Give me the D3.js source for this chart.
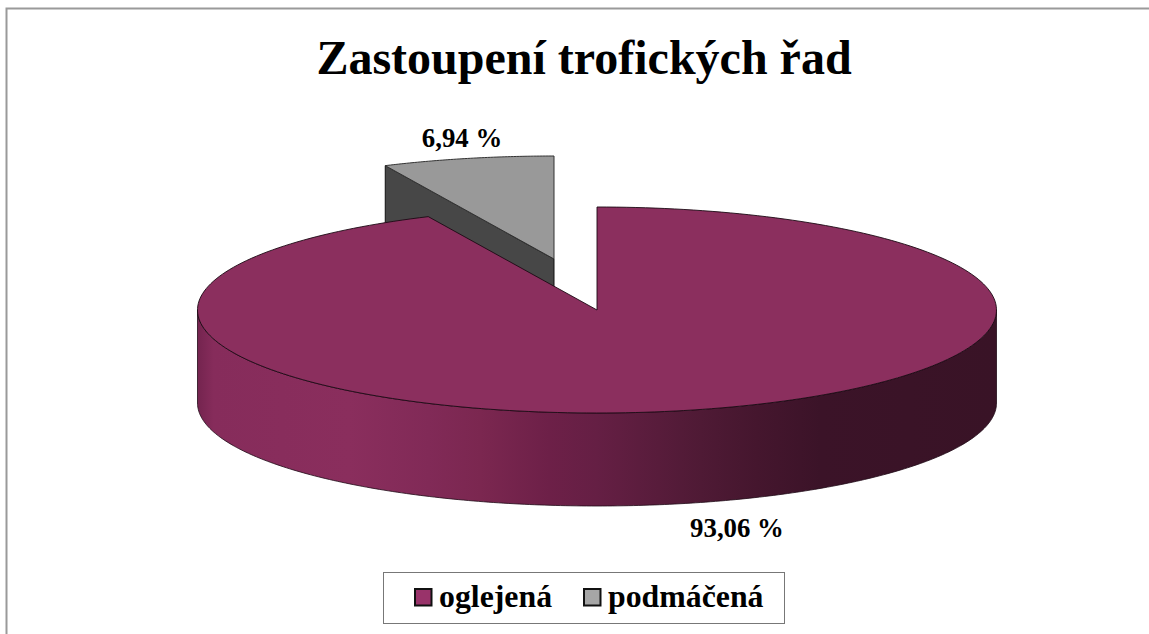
<!DOCTYPE html>
<html><head><meta charset="utf-8">
<script src="https://cdn.jsdelivr.net/npm/d3@7/dist/d3.min.js"></script>
<style>html,body{margin:0;padding:0;background:#fff}svg{display:block}text{font-family:"Liberation Serif",serif;font-weight:bold;fill:#000}</style>
</head><body><svg id="c" width="1149" height="634"></svg>
<script>
const titleText = "Zastoupení trofických řad";
const categories = ["oglejená", "podmáčená"];
const values = [93.06, 6.94];
const valueLabels = ["93,06 %", "6,94 %"];
const topColors = ["#8b2f5e", "#999999"];
const legendColors = ["#99336a", "#a6a6a6"];
const wallStops = [[0,"#74244f"],[0.02,"#862c5b"],[0.19,"#8a2e5d"],[0.29,"#812a57"],[0.354,"#7b2750"],[0.44,"#6d2048"],[0.5,"#651f44"],[0.63,"#4f1a35"],[0.7,"#45162e"],[0.78,"#3b1328"],[1,"#391326"]];

const svg = d3.select("#c");
svg.append("path").attr("d","M6.5,634V8.5H1149").attr("fill","none").attr("stroke","#9a9a9a").attr("stroke-width",2);

const cx = d3.scaleLinear().domain([-1,1]).range([197.5,996.5]);
const cy = d3.scaleLinear().domain([-1,1]).range([207,413]);
const depth = 93;
const explode = {dx:-43, dy:-51};

const defs = svg.append("defs");
const g = defs.append("linearGradient").attr("id","wall").attr("gradientUnits","userSpaceOnUse")
  .attr("x1",cx(-1)).attr("x2",cx(1)).attr("y1",0).attr("y2",0);
wallStops.forEach(s=>g.append("stop").attr("offset",s[0]).attr("stop-color",s[1]));

const arcs = d3.pie().sort(null).value(d=>d)(values);
const rim = (a0,a1,n=240)=>d3.range(n+1).map(i=>{const a=a0+(a1-a0)*i/n;return [Math.sin(a),-Math.cos(a)];});
const line = d3.line().x(d=>cx(d[0])).y(d=>cy(d[1]));
const stroke = "#1c0a14";

const s = arcs[1];
const sm = svg.append("g").attr("transform",`translate(${explode.dx},${explode.dy})`);
const cutEnd = [Math.sin(s.startAngle),-Math.cos(s.startAngle)];
sm.append("path").attr("d",
  `M${cx(cutEnd[0])},${cy(cutEnd[1])}L${cx(0)},${cy(0)}L${cx(0)},${cy(0)+depth}L${cx(cutEnd[0])},${cy(cutEnd[1])+depth}Z`)
  .attr("fill","#474747").attr("stroke","#111").attr("stroke-width",1);
sm.append("path").attr("d",line([[0,0],...rim(s.startAngle,s.endAngle,60)])+"Z")
  .attr("fill",topColors[1]).attr("stroke","#333").attr("stroke-width",1);

const b = arcs[0];
const front = rim(Math.PI/2, 3*Math.PI/2);
const area = d3.area().x(d=>cx(d[0])).y0(d=>cy(d[1])).y1(d=>cy(d[1])+depth);
svg.append("path").attr("d",area(front)).attr("fill","url(#wall)").attr("stroke","#200a16").attr("stroke-width",0.8);
svg.append("path").attr("d",line([[0,0],...rim(b.startAngle,b.endAngle)])+"Z")
  .attr("fill",topColors[0]).attr("stroke",stroke).attr("stroke-width",0.9).attr("stroke-linejoin","miter");

svg.append("text").attr("x",584).attr("y",74).attr("text-anchor","middle").attr("font-size",48).text(titleText);
svg.append("text").attr("x",737).attr("y",537).attr("text-anchor","middle").attr("font-size",26.8).text(valueLabels[0]);
svg.append("text").attr("x",462).attr("y",147).attr("text-anchor","middle").attr("font-size",26.8).text(valueLabels[1]);

svg.append("rect").attr("x",383.5).attr("y",572.5).attr("width",401).attr("height",51).attr("fill","#fff").attr("stroke","#777");
const keyX = [415, 584], labelX = [439, 608];
categories.forEach((c,i)=>{
  svg.append("rect").attr("x",keyX[i]).attr("y",589).attr("width",16.5).attr("height",16.5)
    .attr("fill",legendColors[i]).attr("stroke","#111").attr("stroke-width",2);
  svg.append("text").attr("x",labelX[i]).attr("y",607).attr("font-size",31.8).text(c);
});
</script></body></html>
